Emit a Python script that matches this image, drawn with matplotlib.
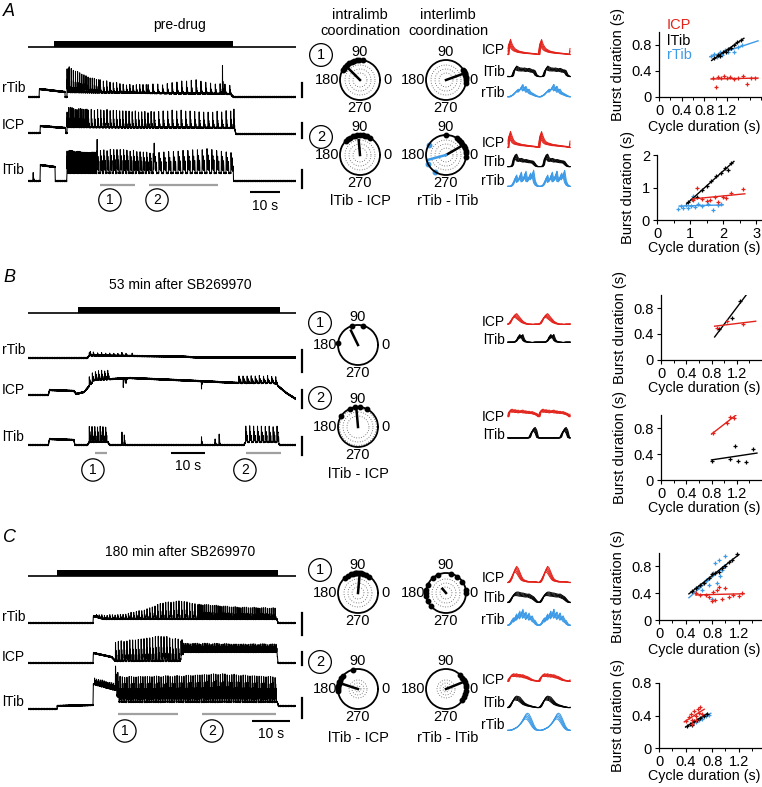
import numpy as np
import matplotlib
matplotlib.use('Agg')
import matplotlib.pyplot as plt

plt.rcParams['font.family'] = ['Liberation Sans', 'DejaVu Sans']
plt.rcParams['font.size'] = 10

W, H = 762, 787
RED = '#e3231b'
BLUE = '#3c9ae6'
GREY = '#a0a0a0'

# ---------------------------------------------------------------- raw EMG
# baseline keypoints (s, a.u.), burst trains (on, off, period, duty, decay),
# burst amplitude envelope and isolated spikes (s, a.u.)
A_rtib_base_t = [0, 3.7, 3.8, 12.3, 12.4, 13.0, 13.1, 67.5, 68.5, 89.3]
A_rtib_base_v = [0, 0, 8, 5, 0, 0, 5, 3, 0, 0]
A_rtib_trains = [(13.0, 24.0, 0.7, 0.4, 2.2), (24.0, 40.0, 1.1, 0.35, 2.2), (40.0, 67.5, 1.6, 0.3, 2.2)]
A_rtib_env_t = [13, 15, 20, 25, 33, 45, 55, 60, 67]
A_rtib_env_v = [30, 24, 17, 12, 8, 9, 14, 11, 9]
A_rtib_spikes = [(13.4, 25), (64.8, 30)]

A_icp_base_t = [0, 4.0, 4.1, 12.5, 12.6, 13.0, 13.1, 68.8, 69.3, 89.3]
A_icp_base_v = [0, 0, 7, 5, 0, 0, 6, 5, -1, -1]
A_icp_trains = [(13.0, 20.0, 0.55, 0.45, 2.0), (20.0, 42.0, 1.05, 0.4, 2.0), (42.0, 68.5, 1.5, 0.35, 2.0)]
A_icp_env_t = [13, 16, 25, 40, 50, 60, 68]
A_icp_env_v = [20, 18, 18, 16, 18, 16, 18]
A_icp_spikes = [(68.6, 20)]

A_ltib_base_t = [0, 4.0, 4.1, 9.0, 9.1, 12.9, 13.0, 68.2, 68.5, 89.3]
A_ltib_base_v = [0, 0, 16, 14, 0, 0, 8, 8, 0, 0]
A_ltib_trains = [(13.0, 23.0, 0.45, 0.6, 0.8), (23.0, 42.0, 1.1, 0.6, 0.8), (42.0, 68.0, 1.6, 0.55, 0.8)]
A_ltib_env_t = [13, 20, 30, 42, 50, 60, 68]
A_ltib_env_v = [24, 22, 24, 20, 22, 24, 20]
A_ltib_spikes = [(1.7, 9)]

B_rtib_base_t = [0, 17.5, 18.0, 45.0, 50.0, 78.8]
B_rtib_base_v = [0, 0, 2.5, 1.5, 0.5, 0.5]
B_rtib_trains = [(18.0, 30.0, 1.2, 0.3, 2.0)]
B_rtib_env_t = [18, 30]
B_rtib_env_v = [3, 2]
B_rtib_spikes = [(18.3, 4), (27.5, 3), (30.6, 3)]

B_icp_base_t = [0, 6.0, 6.3, 13.5, 14.2, 16.5, 19.5, 30, 50, 62, 72.5, 76, 78.8]
B_icp_base_v = [0, 0, 5, 4, 1, 3, 15, 17, 14, 12, 12, 2, -4]
B_icp_trains = [(18.0, 23.5, 0.9, 0.5, 1.5), (62.0, 73.0, 1.2, 0.5, 1.5)]
B_icp_env_t = [18, 23.5, 62, 73]
B_icp_env_v = [9, 9, 7, 7]
B_icp_spikes = [(28.0, -9), (28.8, -6), (51.0, -8)]

B_ltib_base_t = [0, 6.0, 6.3, 13.5, 13.8, 17.5, 18.0, 23.5, 24.0, 63.5, 64.0, 73.5, 74.0, 78.8]
B_ltib_base_v = [0, 0, 6, 5, 0, 0, 3, 3, 0, 0, 3, 3, 0, 0]
B_ltib_trains = [(18.0, 23.5, 0.8, 0.5, 1.2), (64.0, 73.5, 1.15, 0.5, 1.2)]
B_ltib_env_t = [18, 73.5]
B_ltib_env_v = [16, 16]
B_ltib_spikes = [(27.6, 14), (28.3, 11), (51.0, 9), (55.0, 7), (56.2, 11)]

C_rtib_base_t = [0, 17.1, 17.2, 20.0, 65.5, 65.8, 70.5]
C_rtib_base_v = [0, 0, 7, 4, 4, 0, 0]
C_rtib_trains = [(18.0, 45.0, 0.7, 0.4, 2.0), (45.0, 65.5, 0.5, 0.45, 2.0)]
C_rtib_env_t = [18, 25, 30, 35, 40, 45, 55, 65]
C_rtib_env_v = [3, 5, 9, 17, 20, 15, 12, 11]
C_rtib_spikes = []

C_icp_base_t = [0, 17.1, 17.2, 22.0, 23.0, 40.0, 41.0, 65.5, 65.8, 70.5]
C_icp_base_v = [0, 0, 10, 6, 2, 2, 11, 11, 0, 0]
C_icp_trains = [(23.0, 40.5, 0.75, 0.5, 1.5), (40.5, 65.5, 0.45, 0.6, 1.0)]
C_icp_env_t = [23, 30, 35, 40, 41, 65]
C_icp_env_v = [19, 22, 25, 21, 9, 8]
C_icp_spikes = []

C_ltib_base_t = [0, 7.6, 7.7, 17.1, 17.2, 23.0, 24.0, 65.6, 65.9, 70.5]
C_ltib_base_v = [0, 0, 3, 4, 25, 19, 7, 7, 3, 3]
C_ltib_trains = [(17.5, 23.0, 0.5, 0.5, 1.0), (23.0, 65.6, 0.6, 0.6, 0.8)]
C_ltib_env_t = [17.5, 22.9, 23.0, 40, 50, 65]
C_ltib_env_v = [6, 6, 25, 26, 28, 25]
C_ltib_spikes = []

# stimulation period, analysed segments (s)
A_stim = (8.7, 68.3)
B_stim = (14.7, 74.1)
C_stim = (7.6, 65.8)
A_segments = [(24.0, 35.7), (40.3, 63.3)]
B_segments = [(19.7, 23.2), (64.1, 74.4)]
C_segments = [(23.7, 39.5), (45.8, 65.3)]

# ---------------------------------------------------------------- averaged cycles
PHASE = np.linspace(0, 1, 21)
A1_icp = [0.15, 0.95, 0.7, 0.55, 0.45, 0.4, 0.35, 0.32, 0.3, 0.28, 0.27, 0.25, 0.24, 0.23, 0.22, 0.21, 0.2, 0.2, 0.18, 0.17, 0.15]
A1_ltib = [0.15, 0.15, 0.15, 0.2, 0.55, 0.7, 0.65, 0.6, 0.6, 0.58, 0.6, 0.58, 0.55, 0.58, 0.55, 0.5, 0.5, 0.45, 0.25, 0.18, 0.15]
A1_rtib = [0.2, 0.2, 0.25, 0.3, 0.4, 0.5, 0.6, 0.55, 0.7, 0.85, 0.65, 0.75, 0.55, 0.6, 0.45, 0.4, 0.35, 0.3, 0.25, 0.22, 0.2]
A2_icp = [0.15, 1.0, 0.75, 0.55, 0.45, 0.4, 0.38, 0.35, 0.32, 0.3, 0.3, 0.28, 0.27, 0.26, 0.25, 0.24, 0.22, 0.22, 0.2, 0.18, 0.15]
A2_ltib = [0.15, 0.15, 0.15, 0.25, 0.75, 0.8, 0.6, 0.55, 0.58, 0.55, 0.5, 0.52, 0.5, 0.48, 0.45, 0.45, 0.42, 0.3, 0.2, 0.15, 0.15]
A2_rtib = [0.1, 0.1, 0.12, 0.2, 0.4, 0.7, 0.4, 0.5, 0.85, 0.45, 0.5, 0.9, 0.5, 0.45, 0.8, 0.6, 0.95, 0.4, 0.2, 0.12, 0.1]
B1_icp = [0.3, 0.35, 0.5, 0.7, 0.8, 0.85, 0.75, 0.65, 0.55, 0.45, 0.4, 0.35, 0.33, 0.3, 0.3, 0.3, 0.28, 0.3, 0.3, 0.3, 0.3]
B1_ltib = [0.3, 0.3, 0.3, 0.3, 0.3, 0.35, 0.45, 0.7, 0.6, 0.7, 0.45, 0.35, 0.32, 0.3, 0.3, 0.28, 0.28, 0.3, 0.3, 0.3, 0.3]
B2_icp = [0.45, 0.8, 0.85, 0.8, 0.82, 0.78, 0.8, 0.75, 0.78, 0.8, 0.75, 0.76, 0.72, 0.74, 0.7, 0.72, 0.68, 0.65, 0.62, 0.55, 0.45]
B2_ltib = [0.25, 0.25, 0.25, 0.25, 0.25, 0.25, 0.25, 0.25, 0.25, 0.25, 0.25, 0.25, 0.25, 0.25, 0.3, 0.55, 0.75, 0.8, 0.65, 0.3, 0.25]
C1_icp = [0.15, 0.2, 0.35, 0.6, 0.85, 1.0, 0.9, 0.7, 0.5, 0.35, 0.28, 0.25, 0.22, 0.2, 0.2, 0.2, 0.2, 0.2, 0.18, 0.16, 0.15]
C1_ltib = [0.15, 0.2, 0.35, 0.55, 0.65, 0.7, 0.7, 0.68, 0.65, 0.65, 0.62, 0.6, 0.58, 0.6, 0.55, 0.5, 0.45, 0.35, 0.25, 0.18, 0.15]
C1_rtib = [0.1, 0.15, 0.25, 0.5, 0.35, 0.7, 0.5, 0.85, 0.6, 0.95, 0.65, 0.8, 0.55, 0.75, 0.5, 0.6, 0.4, 0.35, 0.2, 0.12, 0.1]
C2_icp = [0.35, 0.55, 0.7, 0.75, 0.72, 0.75, 0.7, 0.72, 0.68, 0.7, 0.65, 0.62, 0.6, 0.55, 0.5, 0.45, 0.42, 0.4, 0.38, 0.36, 0.35]
C2_ltib = [0.15, 0.2, 0.35, 0.55, 0.7, 0.75, 0.72, 0.7, 0.6, 0.5, 0.4, 0.35, 0.3, 0.28, 0.25, 0.22, 0.2, 0.18, 0.16, 0.15, 0.15]
C2_rtib = [0.1, 0.1, 0.12, 0.15, 0.2, 0.25, 0.3, 0.4, 0.5, 0.65, 0.8, 0.95, 1.0, 0.95, 0.8, 0.6, 0.4, 0.25, 0.15, 0.12, 0.1]
SWEEP_GAIN = [0.8, 0.9, 1.0, 1.1, 1.2]
SWEEP_SHIFT = [-0.03, -0.015, 0.0, 0.015, 0.03]

# ---------------------------------------------------------------- phase (deg) + mean vector
A_intra1_ang = [80, 92, 100, 108, 115, 122, 130, 138, 145, 150]
A_intra1_vec = (135, 0.85)
A_inter1_ang = [350, 0, 5, 10, 14, 18, 22, 26, 30]
A_inter1_vec = (20, 0.85)
A_intra2_ang = [60, 68, 75, 82, 90, 98, 105, 112, 120, 128, 135]
A_intra2_vec = (95, 0.75)
A_inter2_ang = [355, 5, 12, 20, 28, 35, 42, 50, 58, 90]
A_inter2_vec = (30, 0.8)
A_inter2_ang_r = [149, 208, 237]
A_inter2_vec_r = (195, 0.97)
B_intra1_ang = [76, 108, 175]
B_intra1_vec = (116, 0.8)
B_intra2_ang = [63, 85, 100, 114, 147]
B_intra2_vec = (95, 0.9)
C_intra1_ang = [55, 65, 75, 82, 88, 92, 96, 100, 105, 112, 120, 130]
C_intra1_vec = (85, 0.9)
C_inter1_ang = [0, 10, 35, 55, 75, 115, 130, 155, 170, 180, 190, 205, 220]
C_inter1_vec = (130, 0.28)
C_intra2_ang = [105, 140, 148, 155, 160, 165, 170, 175, 180, 185]
C_intra2_vec = (162, 0.95)
C_inter2_ang = [325, 335, 345, 355, 5, 12, 20, 28, 35, 45]
C_inter2_vec = (22, 0.95)

# ---------------------------------------------------------------- burst vs cycle duration (s)
A1_icp_x = [0.95, 1.0, 1.05, 1.1, 1.15, 1.2, 1.25, 1.32, 1.4, 1.48, 1.55, 1.62, 1.7]
A1_icp_y = [0.30, 0.15, 0.31, 0.29, 0.33, 0.30, 0.31, 0.28, 0.30, 0.32, 0.20, 0.29, 0.30]
A1_ltib_x = [0.98, 1.04, 1.08, 1.13, 1.18, 1.22, 1.28, 1.33, 1.38, 1.45]
A1_ltib_y = [0.60, 0.64, 0.63, 0.69, 0.70, 0.74, 0.76, 0.80, 0.85, 0.87]
A1_rtib_x = [0.92, 0.97, 1.02, 1.07, 1.12, 1.17, 1.22, 1.27, 1.33, 1.40, 1.46]
A1_rtib_y = [0.63, 0.66, 0.62, 0.70, 0.65, 0.72, 0.69, 0.75, 0.70, 0.77, 0.80]
A2_ltib_x = [0.95, 1.05, 1.2, 1.35, 1.5, 1.65, 1.8, 1.95, 2.05, 2.15, 2.25]
A2_ltib_y = [0.55, 0.65, 0.72, 0.92, 1.05, 1.2, 1.35, 1.45, 1.6, 1.55, 1.75]
A2_icp_x = [1.1, 1.2, 1.35, 1.5, 1.6, 1.75, 1.85, 2.0, 2.1, 2.25, 2.6]
A2_icp_y = [0.62, 0.98, 0.65, 0.58, 0.62, 0.7, 0.55, 0.72, 0.68, 0.82, 0.95]
A2_rtib_x = [0.65, 0.72, 0.8, 0.88, 0.95, 1.02, 1.08, 1.15, 1.25, 1.35, 1.55, 1.7, 1.85, 1.95]
A2_rtib_y = [0.35, 0.42, 0.38, 0.45, 0.36, 0.44, 0.75, 0.4, 0.48, 0.42, 0.5, 0.32, 0.45, 0.48]
B1_ltib_x = [0.92, 1.12, 1.25]
B1_ltib_y = [0.47, 0.64, 0.91]
B1_icp_x = [0.88, 1.05, 1.3]
B1_icp_y = [0.49, 0.6, 0.55]
B2_icp_x = [0.82, 1.05, 1.1, 1.15]
B2_icp_y = [0.72, 0.88, 0.97, 0.95]
B2_ltib_x = [0.8, 1.1, 1.18, 1.22, 1.35, 1.45]
B2_ltib_y = [0.3, 0.33, 0.52, 0.3, 0.27, 0.47]
C1_ltib_x = [0.5, 0.55, 0.62, 0.68, 0.75, 0.8, 0.85, 0.9, 0.95, 1.0, 1.05, 1.1, 1.18]
C1_ltib_y = [0.44, 0.48, 0.52, 0.55, 0.62, 0.68, 0.7, 0.72, 0.78, 0.8, 0.86, 0.9, 0.98]
C1_rtib_x = [0.5, 0.55, 0.6, 0.65, 0.7, 0.75, 0.8, 0.82, 0.85, 0.88, 0.9, 0.92, 0.95, 0.98, 1.0]
C1_rtib_y = [0.42, 0.48, 0.5, 0.45, 0.6, 0.52, 0.32, 0.7, 0.85, 0.55, 0.9, 0.65, 0.75, 0.8, 0.95]
C1_icp_x = [0.55, 0.62, 0.7, 0.75, 0.8, 0.82, 0.85, 0.88, 0.9, 0.95, 1.0, 1.05, 1.12, 1.2, 1.25]
C1_icp_y = [0.4, 0.37, 0.38, 0.35, 0.28, 0.42, 0.3, 0.45, 0.5, 0.32, 0.48, 0.35, 0.38, 0.36, 0.4]
C2_icp_x = [0.4, 0.45, 0.48, 0.5, 0.52, 0.55, 0.58, 0.6, 0.62, 0.65, 0.55, 0.5]
C2_icp_y = [0.33, 0.38, 0.42, 0.35, 0.45, 0.4, 0.48, 0.43, 0.5, 0.42, 0.35, 0.3]
C2_ltib_x = [0.42, 0.46, 0.5, 0.53, 0.57, 0.62, 0.68, 0.72]
C2_ltib_y = [0.27, 0.3, 0.28, 0.33, 0.35, 0.37, 0.4, 0.42]
C2_rtib_x = [0.5, 0.55, 0.6, 0.65, 0.7, 0.75]
C2_rtib_y = [0.3, 0.32, 0.35, 0.36, 0.4, 0.41]


def emg(t, base_t, base_v, trains, env_t, env_v, spikes):
    y = np.interp(t, base_t, base_v)
    events = []
    for on, off, period, duty, decay in trains:
        for t0 in np.arange(on, off, period):
            events.append((t0, np.interp(t0, env_t, env_v), duty * period, decay))
    for t0, a in spikes:
        events.append((t0, a, 0.3, 2.2))
    for t0, a, d, k in events:
        m = (t >= t0) & (t < t0 + d)
        s = (t[m] - t0) / d
        rise = np.minimum(s / 0.08, 1.0)
        fall = np.exp(-k * np.clip(s - 0.08, 0, None))
        y[m] += a * rise * fall * (0.6 + 0.4 * np.cos(5 * np.pi * (s - 0.08)))
    # line texture
    return y + 0.7 * np.sin(2 * np.pi * 23.7 * t) * np.cos(2 * np.pi * 3.3 * t)


fig = plt.figure(figsize=(W / 100, H / 100), dpi=100)


def px_axes(x0, y0, x1, y1, **kw):
    return fig.add_axes([x0 / W, 1 - y1 / H, (x1 - x0) / W, (y1 - y0) / H], **kw)


ov = px_axes(0, 0, W, H)
ov.set_xlim(0, W)
ov.set_ylim(H, 0)
ov.axis('off')
ov.set_zorder(10)

# ---------------------------------------------------------------- trace columns
X0, X1 = 28, 296
layout = {
    'A': dict(px_s=3.0, y_letter=12, title='pre-drug', y_title=25, y_stim=47,
              base=[97, 133, 181], lab=[88, 125, 170], bars=[(83, 97), (123, 138), (170, 188)],
              y_seg=185, y_scale=192, y_scale_txt=206, y_circ=200, circ_t=[27.3, 43.0], scale_t=74.0),
    'B': dict(px_s=3.4, y_letter=278, title='53 min after SB269970', y_title=285, y_stim=313,
              base=[358, 395, 445], lab=[350, 390, 437], bars=[(350, 372), (390, 408), (437, 455)],
              y_seg=453, y_scale=453, y_scale_txt=466, y_circ=470, circ_t=[19.1, 63.8], scale_t=42.0),
    'C': dict(px_s=3.8, y_letter=537, title='180 min after SB269970', y_title=552, y_stim=576,
              base=[623, 663, 709], lab=[617, 657, 702], bars=[(613, 635), (652, 665), (698, 718)],
              y_seg=714, y_scale=721, y_scale_txt=734, y_circ=731, circ_t=[25.5, 48.4], scale_t=59.0),
}
traces = {
    'A': [(A_rtib_base_t, A_rtib_base_v, A_rtib_trains, A_rtib_env_t, A_rtib_env_v, A_rtib_spikes),
          (A_icp_base_t, A_icp_base_v, A_icp_trains, A_icp_env_t, A_icp_env_v, A_icp_spikes),
          (A_ltib_base_t, A_ltib_base_v, A_ltib_trains, A_ltib_env_t, A_ltib_env_v, A_ltib_spikes)],
    'B': [(B_rtib_base_t, B_rtib_base_v, B_rtib_trains, B_rtib_env_t, B_rtib_env_v, B_rtib_spikes),
          (B_icp_base_t, B_icp_base_v, B_icp_trains, B_icp_env_t, B_icp_env_v, B_icp_spikes),
          (B_ltib_base_t, B_ltib_base_v, B_ltib_trains, B_ltib_env_t, B_ltib_env_v, B_ltib_spikes)],
    'C': [(C_rtib_base_t, C_rtib_base_v, C_rtib_trains, C_rtib_env_t, C_rtib_env_v, C_rtib_spikes),
          (C_icp_base_t, C_icp_base_v, C_icp_trains, C_icp_env_t, C_icp_env_v, C_icp_spikes),
          (C_ltib_base_t, C_ltib_base_v, C_ltib_trains, C_ltib_env_t, C_ltib_env_v, C_ltib_spikes)],
}
stims = {'A': A_stim, 'B': B_stim, 'C': C_stim}
segments = {'A': A_segments, 'B': B_segments, 'C': C_segments}
circ = dict(boxstyle='circle,pad=0.3', fc='none', ec='k', lw=0.9)

for key in 'ABC':
    L = layout[key]
    T = (X1 - X0) / L['px_s']
    ov.text(3, L['y_letter'], key, fontsize=13, style='italic', va='center')
    ov.text(180, L['y_title'], L['title'], fontsize=10, ha='center', va='center')
    for name, yl in zip(['rTib', 'ICP', 'lTib'], L['lab']):
        ov.text(2, yl, name, fontsize=10, va='center')
    for b0, b1 in L['bars']:
        ov.plot([302, 302], [b0, b1], color='k', lw=1.6)

    ann = px_axes(X0, 0, X1, H)
    ann.set_xlim(0, T)
    ann.set_ylim(H, 0)
    ann.axis('off')
    ys = L['y_stim']
    ann.hlines(ys, 0, T, color='k', lw=1.2)
    ann.fill_between(list(stims[key]), ys - 6.5, ys, color='k', lw=0)
    for s0, s1 in segments[key]:
        ann.hlines(L['y_seg'], s0, s1, color=GREY, lw=1.6)
    ann.hlines(L['y_scale'], L['scale_t'], L['scale_t'] + 10, color='k', lw=1.5)
    ann.text(L['scale_t'] + 5, L['y_scale_txt'], '10 s', ha='center', va='center', fontsize=10)
    for i, ct in enumerate(L['circ_t']):
        ann.text(ct, L['y_circ'], str(i + 1), ha='center', va='center', fontsize=10, bbox=circ)

    t = np.arange(0, T, 0.01)
    for b, tr in zip(L['base'], traces[key]):
        ax = px_axes(X0, b - 45, X1, b + 10)
        ax.set_xlim(0, T)
        ax.set_ylim(-10, 45)
        ax.axis('off')
        ax.plot(t, emg(t, *tr), color='k', lw=0.75)

# ---------------------------------------------------------------- polar plots
ov.text(360, 23, 'intralimb\ncoordination', ha='center', va='center', fontsize=10.5, linespacing=1.15)
ov.text(448, 23, 'interlimb\ncoordination', ha='center', va='center', fontsize=10.5, linespacing=1.15)


def polar(cx, cy, ang, vec, rings, ang_r=None, vec_r=None, r=20):
    ax = px_axes(cx - r, cy - r, cx + r, cy + r, projection='polar')
    ax.set_ylim(0, 1)
    ax.grid(False)
    ax.set_yticks([])
    ax.set_xticks([])
    ax.spines['polar'].set_linewidth(1.3)
    ax.patch.set_alpha(0)
    th = np.linspace(0, 2 * np.pi, 200)
    for rr in rings:
        ax.plot(th, np.full_like(th, rr), color='#555555', lw=0.6, ls=(0, (1, 2)))
    groups = [(ang, vec, 'k')]
    if ang_r is not None:
        groups.append((ang_r, vec_r, BLUE))
    for a, v, c in groups:
        ax.plot(np.deg2rad(a), np.ones(len(a)), 'o', ms=3.2, color=c, clip_on=False)
        ax.plot([np.deg2rad(v[0])] * 2, [0, v[1]], color=c, lw=1.8)
    ov.text(cx, cy - r - 8, '90', ha='center', va='center', fontsize=10.5)
    ov.text(cx, cy + r + 8, '270', ha='center', va='center', fontsize=10.5)
    ov.text(cx - r - 1, cy, '180', ha='right', va='center', fontsize=10.5)
    ov.text(cx + r + 3, cy, '0', ha='left', va='center', fontsize=10.5)
    return ax


rings3 = [0.35, 0.55, 0.75]
polar(360, 80, A_intra1_ang, A_intra1_vec, rings3)
polar(446, 80, A_inter1_ang, A_inter1_vec, rings3)
polar(360, 155, A_intra2_ang, A_intra2_vec, rings3)
polar(446, 155, A_inter2_ang, A_inter2_vec, rings3, A_inter2_ang_r, A_inter2_vec_r)
polar(358, 345, B_intra1_ang, B_intra1_vec, [])
polar(358, 427, B_intra2_ang, B_intra2_vec, [0.55, 0.75, 0.92])
polar(358, 593, C_intra1_ang, C_intra1_vec, [0.3, 0.5, 0.7])
polar(446, 593, C_inter1_ang, C_inter1_vec, [0.3, 0.5, 0.7])
polar(358, 689, C_intra2_ang, C_intra2_vec, [0.15, 0.3, 0.45])
polar(446, 689, C_inter2_ang, C_inter2_vec, [0.15, 0.3, 0.45])

for x, y, s in [(321, 55, '1'), (321, 137, '2'), (320, 323, '1'), (320, 398, '2'),
                (320, 570, '1'), (320, 662, '2')]:
    ov.text(x, y, s, ha='center', va='center', fontsize=10.5, bbox=circ)
for x, y, s in [(360, 201, 'lTib - ICP'), (448, 201, 'rTib - lTib'), (358, 474, 'lTib - ICP'),
                (358, 738, 'lTib - ICP'), (448, 738, 'rTib - lTib')]:
    ov.text(x, y, s, ha='center', va='center', fontsize=10.5)

# ---------------------------------------------------------------- averaged cycles
avg_rows = [
    ([50, 72, 93], ['ICP', 'lTib', 'rTib'], [A1_icp, A1_ltib, A1_rtib]),
    ([143, 162, 181], ['ICP', 'lTib', 'rTib'], [A2_icp, A2_ltib, A2_rtib]),
    ([322, 340], ['ICP', 'lTib'], [B1_icp, B1_ltib]),
    ([417, 435], ['ICP', 'lTib'], [B2_icp, B2_ltib]),
    ([578, 598, 620], ['ICP', 'lTib', 'rTib'], [C1_icp, C1_ltib, C1_rtib]),
    ([680, 703, 725], ['ICP', 'lTib', 'rTib'], [C2_icp, C2_ltib, C2_rtib]),
]
colors = {'ICP': RED, 'lTib': 'k', 'rTib': BLUE}
ph = np.linspace(0, 2, 500)
for ys, names, waves in avg_rows:
    for y, name, wave in zip(ys, names, waves):
        ov.text(505, y, name, ha='right', va='center', fontsize=10)
        ax = px_axes(508, y - 9, 570, y + 7)
        ax.set_xlim(0, 2)
        ax.set_ylim(0, 1)
        ax.axis('off')
        lo = min(wave)
        for g, sh in zip(SWEEP_GAIN, SWEEP_SHIFT):
            w = np.interp((ph - sh) % 1, PHASE, wave)
            ax.plot(ph, lo + (w - lo) * g, color=colors[name], lw=0.7, clip_on=False)

# ---------------------------------------------------------------- scatter plots
ov.text(667, 25, 'ICP', color=RED, fontsize=10.5, va='center')
ov.text(667, 41, 'lTib', color='k', fontsize=10.5, va='center')
ov.text(667, 55, 'rTib', color=BLUE, fontsize=10.5, va='center')


def scatter_ax(x0, ytop, ybot, xmax, ymax, xt, yt, ylab, series):
    ax = px_axes(x0, ytop, W, ybot)
    ax.patch.set_alpha(0)
    ax.set_xlim(0, xmax)
    ax.set_ylim(0, ymax)
    for sp in ['top', 'right']:
        ax.spines[sp].set_visible(False)
    for sp in ['left', 'bottom']:
        ax.spines[sp].set_linewidth(0.9)
    ax.set_xticks(xt, [f'{v:g}' for v in xt])
    ax.set_yticks(yt, [f'{v:g}' for v in yt])
    ax.set_xticks(np.arange(xt[0], xmax, (xt[1] - xt[0]) / 2), minor=True)
    ax.tick_params(direction='out', length=3, width=0.8, pad=2, labelsize=10.5)
    ax.tick_params(which='minor', length=2, width=0.7)
    ax.set_ylabel('Burst duration (s)', fontsize=10.5, labelpad=5)
    ov.text(760, ylab, 'Cycle duration (s)', ha='right', va='center', fontsize=10.3)
    for x, y, c, xr in series:
        ax.plot(x, y, '+', ms=3.5, mew=0.9, color=c, clip_on=False)
        k, b = np.polyfit(x, y, 1)
        xr = np.array(xr)
        ax.plot(xr, k * xr + b, color=c, lw=1.0)
    return ax


scatter_ax(659, 32, 97, 1.82, 1.0, [0, 0.4, 0.8, 1.2], [0, 0.4, 0.8], 127,
           [(A1_rtib_x, A1_rtib_y, BLUE, [0.9, 1.75]), (A1_ltib_x, A1_ltib_y, 'k', [0.93, 1.5]),
            (A1_icp_x, A1_icp_y, RED, [0.92, 1.75])])
scatter_ax(657, 155, 220, 3.18, 2.0, [0, 1, 2, 3], [0, 1, 2], 248,
           [(A2_rtib_x, A2_rtib_y, BLUE, [0.67, 2.0]), (A2_ltib_x, A2_ltib_y, 'k', [0.9, 2.33]),
            (A2_icp_x, A2_icp_y, RED, [1.07, 2.66])])
scatter_ax(661, 295, 360, 1.6, 1.0, [0, 0.4, 0.8, 1.2], [0, 0.4, 0.8], 388,
           [(B1_ltib_x, B1_ltib_y, 'k', [0.85, 1.38]), (B1_icp_x, B1_icp_y, RED, [0.85, 1.5])])
scatter_ax(661, 415, 480, 1.6, 1.0, [0, 0.4, 0.8, 1.2], [0, 0.4, 0.8], 508,
           [(B2_ltib_x, B2_ltib_y, 'k', [0.8, 1.52]), (B2_icp_x, B2_icp_y, RED, [0.8, 1.2])])
scatter_ax(659, 553, 620, 1.55, 1.0, [0, 0.4, 0.8, 1.2], [0, 0.4, 0.8], 650,
           [(C1_rtib_x, C1_rtib_y, BLUE, [0.45, 1.0]), (C1_ltib_x, C1_ltib_y, 'k', [0.45, 1.2]),
            (C1_icp_x, C1_icp_y, RED, [0.55, 1.28])])
scatter_ax(659, 683, 748, 1.55, 0.8, [0, 0.4, 0.8, 1.2], [0, 0.4, 0.8], 776,
           [(C2_rtib_x, C2_rtib_y, BLUE, [0.5, 0.78]), (C2_ltib_x, C2_ltib_y, 'k', [0.4, 0.73]),
            (C2_icp_x, C2_icp_y, RED, [0.38, 0.68])])

fig.savefig('out.png', dpi=100)
